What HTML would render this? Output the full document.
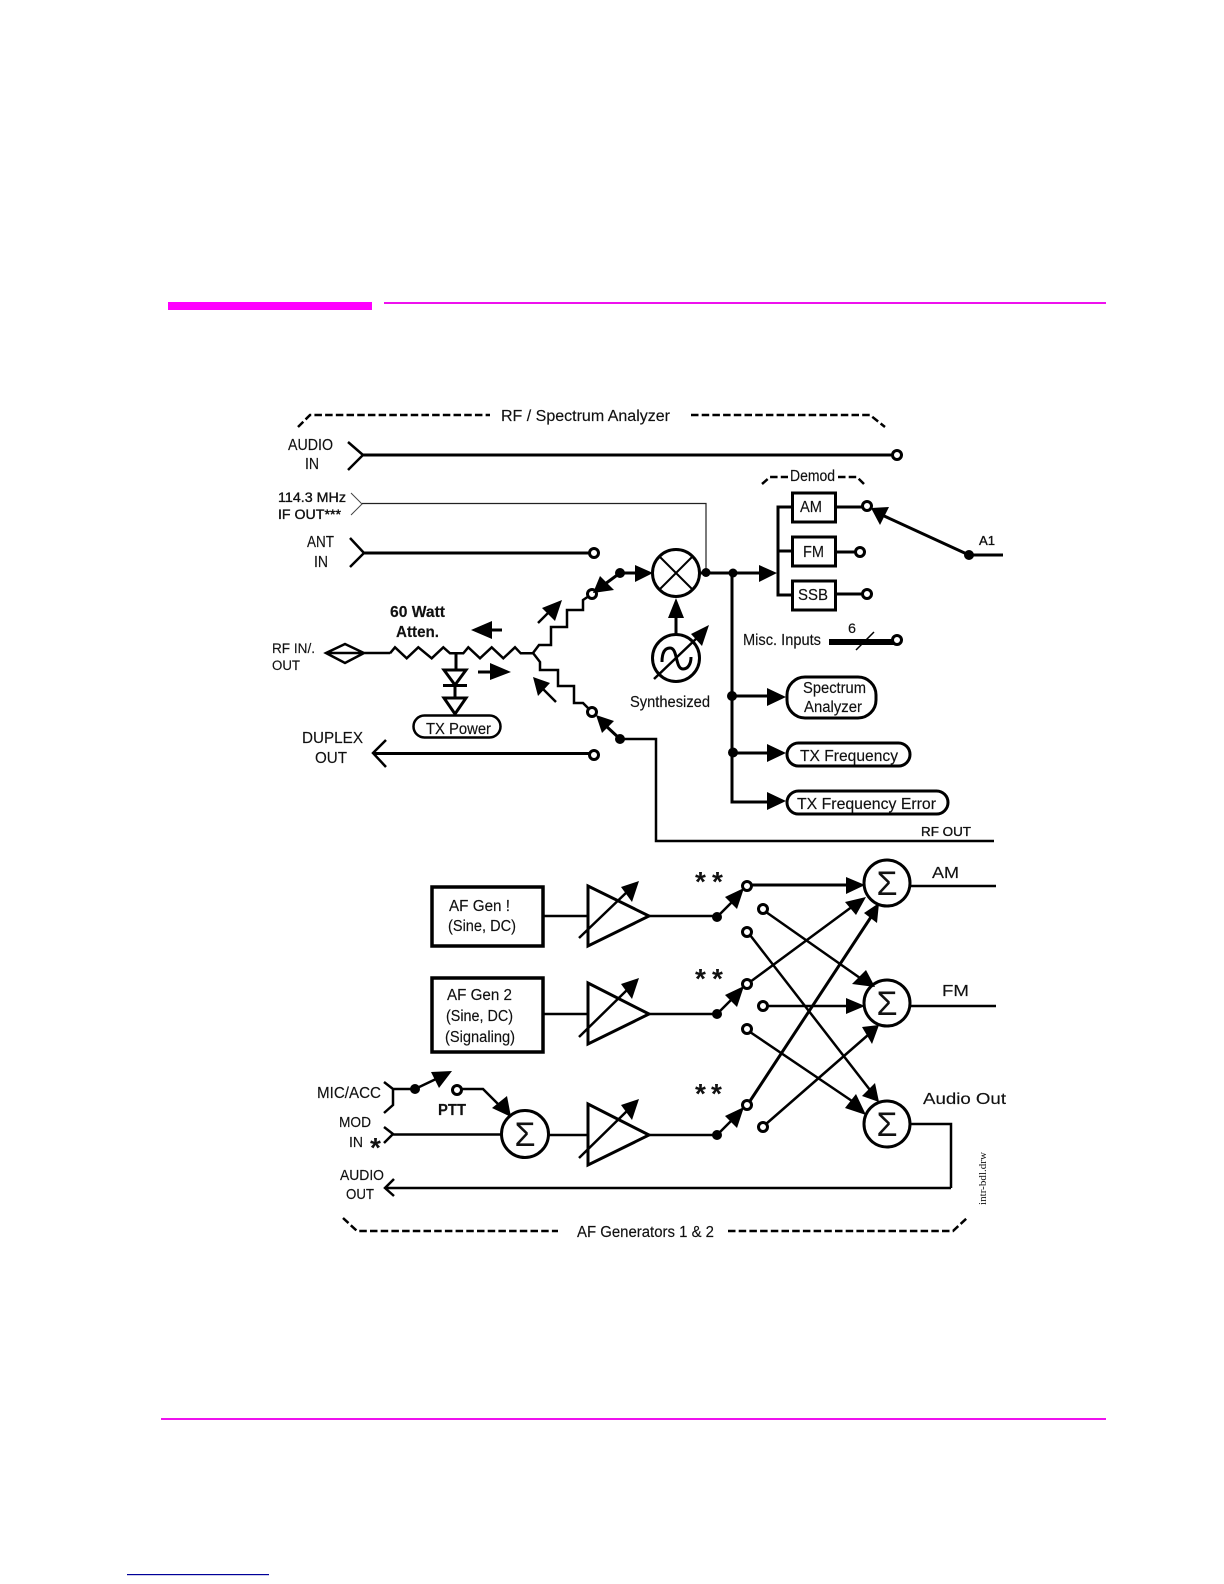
<!DOCTYPE html>
<html><head><meta charset="utf-8"><style>
html,body{margin:0;padding:0;background:#fff}
svg{display:block}
text{font-family:"Liberation Sans",Arial,sans-serif;fill:#111;stroke:#111;stroke-width:.15px;font-size:15.5px}
.l{fill:none;stroke:#000;stroke-width:3}
.m{fill:none;stroke:#000;stroke-width:2.5}
.c{fill:#fff;stroke:#000;stroke-width:3}
.d{fill:#000;stroke:none}
.a{fill:#000;stroke:none}
.dash{fill:none;stroke:#000;stroke-width:2.5;stroke-dasharray:7.5 3.2}
.b{font-weight:bold}
.f{stroke-width:.35px}
.sg{font-size:34px;text-anchor:middle;stroke:none}
.st{font-size:28px;font-weight:bold;stroke:none}
</style></head><body>
<svg width="1224" height="1584" viewBox="0 0 1224 1584" xmlns="http://www.w3.org/2000/svg">
<rect width="1224" height="1584" fill="#fff"/>
<!-- page rules -->
<rect x="168" y="302" width="204" height="8" fill="#ff00ff"/>
<rect x="384" y="302" width="722" height="2" fill="#ee11ee"/>
<rect x="161" y="1418" width="945" height="2" fill="#ee11ee"/>
<rect x="127" y="1574" width="142" height="1.2" fill="#000099"/>

<!-- Top group -->
<path class="dash" d="M298,427 L310,415 H490"/>
<text x="501" y="421" textLength="169" lengthAdjust="spacingAndGlyphs">RF / Spectrum Analyzer</text>
<path class="dash" d="M691,415 H870 L885,427"/>

<text x="288" y="450" textLength="45" lengthAdjust="spacingAndGlyphs">AUDIO</text>
<text x="305" y="469" textLength="14" lengthAdjust="spacingAndGlyphs">IN</text>
<path class="m" d="M348,442 L363,455 L348,470"/>
<path class="l" d="M363,455 H892"/>
<circle class="c" cx="897" cy="455" r="4.5"/>

<text class="f" x="278" y="502" style="font-size:13.5px" textLength="68" lengthAdjust="spacingAndGlyphs">114.3 MHz</text>
<text class="f" x="278" y="519" style="font-size:13.5px" textLength="63" lengthAdjust="spacingAndGlyphs">IF OUT***</text>
<path d="M351,493 L362,504 L351,515" fill="none" stroke="#444" stroke-width="1"/>
<path d="M362,503.5 H706 V572" fill="none" stroke="#222" stroke-width="1.2"/>

<text x="307" y="547" textLength="27" lengthAdjust="spacingAndGlyphs">ANT</text>
<text x="314" y="567" textLength="14" lengthAdjust="spacingAndGlyphs">IN</text>
<path class="m" d="M350,538 L364,553 L350,567"/>
<path class="l" d="M364,553 H590"/>
<circle class="c" cx="594" cy="553" r="4.5"/>

<!-- RF IN -->
<text x="272" y="653" style="font-size:13.5px" textLength="43" lengthAdjust="spacingAndGlyphs">RF IN/.</text>
<text x="272" y="670" style="font-size:13.5px" textLength="28" lengthAdjust="spacingAndGlyphs">OUT</text>
<path class="m" d="M326,653 L345,644 L364,653 L345,663 Z M326,653 H390"/>
<polyline class="m" points="390,653.3 395,647.3 406.7,658.3 418.3,647.3 431.7,658.3 443.3,647.3 450,653.3 463.3,653.3 468.3,647.3 480,658.3 491.7,647.3 503.3,658.3 515,647.3 520.7,653.3 533.3,653.3"/>
<polyline class="m" points="533,653 539,645 551,645 551,627 567,627 567,610 583,610 583,600 592,594"/>
<polyline class="m" points="533,653 540,662 540,670 558,670 558,686 574,686 574,703 583,703 592,712"/>
<text class="b" x="390" y="617" textLength="55" lengthAdjust="spacingAndGlyphs">60 Watt</text>
<text class="b" x="396" y="637" textLength="43" lengthAdjust="spacingAndGlyphs">Atten.</text>
<!-- coupling arrows -->
<polygon class="a" points="471,630 492,621 492,639"/><path class="l" d="M490,630 H502"/>
<polygon class="a" points="511,672 490,663 490,680"/><path class="l" d="M478,672 H492"/>
<polygon class="a" points="562,600 542,608 555,621"/><path class="m" d="M538,623 L552,609"/>
<polygon class="a" points="533,677 550,683 538,696"/><path class="m" d="M556,702 L541,687"/>
<!-- diodes -->
<path class="l" d="M456,653 V669"/>
<polygon points="444,670 466,670 455,685" fill="#fff" stroke="#000" stroke-width="3"/>
<path class="l" d="M443,685.5 H467 M455,685 V697"/>
<polygon points="444,698 466,698 455,714" fill="#fff" stroke="#000" stroke-width="3"/>
<rect class="c" x="413.5" y="715.5" width="87" height="22" rx="11" ry="11" style="stroke-width:2.5"/>
<text x="426" y="734" textLength="65" lengthAdjust="spacingAndGlyphs">TX Power</text>

<text x="302" y="743" style="font-size:16px" textLength="61" lengthAdjust="spacingAndGlyphs">DUPLEX</text>
<text x="315" y="763" style="font-size:16px" textLength="32" lengthAdjust="spacingAndGlyphs">OUT</text>
<path class="m" d="M386,740 L373,753 L386,767"/>
<path class="l" d="M373,753.5 H590"/>
<circle class="c" cx="594" cy="755" r="4.5"/>

<!-- switches -->
<circle class="c" cx="592" cy="594" r="4.5"/>
<path class="l" d="M620,573 L605,584"/>
<polygon class="a" points="593,593 614,590 600,576"/>
<circle class="d" cx="620" cy="573" r="5"/>
<path class="l" d="M620,573 H636"/>
<polygon class="a" points="635,565 653,573 635,582"/>
<circle class="c" cx="592" cy="712" r="4.5"/>
<polygon class="a" points="596,715 614,721 602,733"/>
<path class="l" d="M620,739 L605,725"/>
<circle class="d" cx="620" cy="739" r="5"/>
<path class="m" d="M620,739 H656 V841 H994"/>
<text class="f" x="921" y="836" style="font-size:13px" textLength="50" lengthAdjust="spacingAndGlyphs">RF OUT</text>

<!-- mixer -->
<circle class="c" cx="676" cy="573" r="23.5"/>
<path d="M660,557 L692,589 M692,557 L660,589" fill="none" stroke="#000" stroke-width="2"/>
<circle class="d" cx="706" cy="572.5" r="4.5"/>
<path class="l" d="M699,573 H762"/>
<circle class="d" cx="733" cy="573" r="4.5"/>
<polygon class="a" points="759,565 777,573 759,582"/>
<!-- synth -->
<path class="l" d="M676,635 V616"/>
<polygon class="a" points="668,618 676,598 684,618"/>
<circle class="c" cx="676" cy="658" r="23.5"/>
<path class="l" d="M662,662 C662,652 665,648 670,648 C678,648 675,669 683,669 C688,669 691,664 691,657"/>
<path class="m" d="M654,679 L698,637"/>
<polygon class="a" points="709,625 691,634 702,646"/>
<text x="630" y="707" textLength="80" lengthAdjust="spacingAndGlyphs">Synthesized</text>

<!-- demod -->
<path class="dash" d="M762,484 L770,477 H788 M838,477 H857 L865,485"/>
<text x="790" y="481" textLength="45" lengthAdjust="spacingAndGlyphs">Demod</text>
<path class="l" d="M792,507 H778 V595 H792 M778,551 H792"/>
<rect class="c" x="792.5" y="493" width="43" height="29"/>
<rect class="c" x="792.5" y="537" width="43" height="29"/>
<rect class="c" x="792.5" y="581" width="43" height="29"/>
<text x="800" y="512" textLength="22" lengthAdjust="spacingAndGlyphs">AM</text>
<text x="803" y="557" textLength="21" lengthAdjust="spacingAndGlyphs">FM</text>
<text x="798" y="600" textLength="30" lengthAdjust="spacingAndGlyphs">SSB</text>
<path class="l" d="M836,507 H863 M836,552 H856 M836,594 H863"/>
<circle class="c" cx="867" cy="506" r="4.5"/>
<circle class="c" cx="860" cy="552" r="4.5"/>
<circle class="c" cx="867" cy="594" r="4.5"/>
<path class="l" d="M969,555 L882,515"/>
<polygon class="a" points="871,508 889,507 880,525"/>
<circle class="d" cx="969" cy="555" r="5"/>
<path class="l" d="M969,555 H1003"/>
<text class="f" x="979" y="545" style="font-size:13px" textLength="16" lengthAdjust="spacingAndGlyphs">A1</text>

<!-- misc -->
<text x="743" y="645" textLength="78" lengthAdjust="spacingAndGlyphs">Misc. Inputs</text>
<text x="848" y="633" style="font-size:14px" textLength="8" lengthAdjust="spacingAndGlyphs">6</text>
<rect x="829" y="639" width="66" height="6" fill="#000"/>
<path d="M856,650 L874,632" stroke="#000" stroke-width="1.5"/>
<circle class="c" cx="897" cy="640" r="4.5"/>

<!-- TX bus -->
<path class="l" d="M732,573 V802 H768 M732,696 H768 M732,753 H768"/>
<circle class="d" cx="732" cy="696" r="5"/>
<circle class="d" cx="733" cy="752.5" r="5"/>
<polygon class="a" points="767,688 786,697 767,706"/>
<polygon class="a" points="767,744 786,753 767,762"/>
<polygon class="a" points="767,792 786,801 767,810"/>
<rect class="c" x="787" y="677" width="89" height="41" rx="18" ry="18"/>
<text x="803" y="693" textLength="63" lengthAdjust="spacingAndGlyphs">Spectrum</text>
<text x="804" y="712" textLength="58" lengthAdjust="spacingAndGlyphs">Analyzer</text>
<rect class="c" x="787" y="743" width="123" height="23" rx="11.5" ry="11.5"/>
<text x="800" y="761" style="font-size:16px" textLength="98" lengthAdjust="spacingAndGlyphs">TX Frequency</text>
<rect class="c" x="787" y="791" width="161" height="23" rx="11.5" ry="11.5"/>
<text x="797" y="809" style="font-size:16px" textLength="139" lengthAdjust="spacingAndGlyphs">TX Frequency Error</text>

<!-- AF gens -->
<rect class="c" x="432" y="887" width="111" height="59" style="stroke-width:3.5"/>
<text x="449" y="911" textLength="61" lengthAdjust="spacingAndGlyphs">AF Gen !</text>
<text x="448" y="931" textLength="68" lengthAdjust="spacingAndGlyphs">(Sine, DC)</text>
<rect class="c" x="432" y="978" width="111" height="74" style="stroke-width:3.5"/>
<text x="447" y="1000" textLength="65" lengthAdjust="spacingAndGlyphs">AF Gen 2</text>
<text x="446" y="1021" textLength="67" lengthAdjust="spacingAndGlyphs">(Sine, DC)</text>
<text x="445" y="1042" textLength="70" lengthAdjust="spacingAndGlyphs">(Signaling)</text>
<path class="m" d="M543,916 H588 M543,1014 H588 M548,1135 H588"/>

<!-- amps -->
<polygon points="588,886 649,916 588,946" fill="none" stroke="#000" stroke-width="3"/>
<path class="m" d="M579,938 L628,891"/>
<polygon class="a" points="639,881 621,887 632,902"/>
<polygon points="588,983 649,1014 588,1044" fill="none" stroke="#000" stroke-width="3"/>
<path class="m" d="M579,1037 L628,989"/>
<polygon class="a" points="639,978 621,984 632,999"/>
<polygon points="588,1104 649,1135 588,1165" fill="none" stroke="#000" stroke-width="3"/>
<path class="m" d="M579,1158 L628,1110"/>
<polygon class="a" points="639,1099 621,1105 632,1120"/>

<path class="m" d="M649,916 H717 M649,1014 H717 M649,1135 H717"/>
<circle class="d" cx="717" cy="917" r="5"/>
<circle class="d" cx="717" cy="1014" r="5"/>
<circle class="d" cx="717" cy="1135" r="5"/>
<path class="m" d="M717,917 L732,902 M717,1014 L732,999 M717,1135 L732,1120"/>
<polygon class="a" points="744,888 725,897 737,909"/>
<polygon class="a" points="744,986 725,995 737,1007"/>
<polygon class="a" points="744,1107 725,1116 737,1128"/>
<text class="st" x="695" y="891">*</text><text class="st" x="712" y="891">*</text>
<text class="st" x="695" y="988">*</text><text class="st" x="712" y="988">*</text>
<text class="st" x="695" y="1103">*</text><text class="st" x="711" y="1103">*</text>

<!-- matrix lines -->
<path class="l" d="M747,885 H850"/>
<polygon class="a" points="865,885 846,877 846,894"/>
<path class="m" d="M750,982 L853,906"/>
<polygon class="a" points="866,897 845,902 856,915"/>
<path class="l" d="M750,1101 L871,917"/>
<polygon class="a" points="879,903 864,913 877,923"/>
<path class="m" d="M766,912 L860,978"/>
<polygon class="a" points="875,987 852,984 866,970"/>
<path class="m" d="M767,1006 H850"/>
<polygon class="a" points="865,1006 846,998 846,1014"/>
<path class="m" d="M766,1124 L868,1035"/>
<polygon class="a" points="879,1025 862,1027 872,1044"/>
<path class="m" d="M750,935 L870,1090"/>
<polygon class="a" points="879,1102 862,1096 875,1083"/>
<path class="m" d="M750,1032 L852,1101"/>
<polygon class="a" points="866,1115 845,1108 856,1094"/>

<circle class="c" cx="747" cy="886" r="4.5"/>
<circle class="c" cx="763" cy="909" r="4.5"/>
<circle class="c" cx="747" cy="932" r="4.5"/>
<circle class="c" cx="747" cy="984" r="4.5"/>
<circle class="c" cx="763" cy="1006" r="4.5"/>
<circle class="c" cx="747" cy="1029" r="4.5"/>
<circle class="c" cx="747" cy="1105" r="4.5"/>
<circle class="c" cx="763" cy="1127" r="4.5"/>

<!-- sums -->
<circle cx="887" cy="883" r="23" fill="none" stroke="#000" stroke-width="3"/>
<text class="sg" x="887" y="895">Σ</text>
<circle cx="887" cy="1003" r="23" fill="none" stroke="#000" stroke-width="3"/>
<text class="sg" x="887" y="1015">Σ</text>
<circle cx="887" cy="1124" r="23" fill="none" stroke="#000" stroke-width="3"/>
<text class="sg" x="887" y="1136">Σ</text>
<path class="m" d="M911,886 H996 M911,1006 H996"/>
<path class="m" d="M911,1124 H951 V1188"/>
<text x="932" y="878" style="font-size:16px" textLength="27" lengthAdjust="spacingAndGlyphs">AM</text>
<text x="942" y="996" style="font-size:16px" textLength="27" lengthAdjust="spacingAndGlyphs">FM</text>
<text x="923" y="1104" style="font-size:16px" textLength="83" lengthAdjust="spacingAndGlyphs">Audio Out</text>
<text transform="translate(986,1205) rotate(-90)" style="font-family:'Liberation Serif',serif;font-size:10px;stroke:none" textLength="53" lengthAdjust="spacingAndGlyphs">intr-bdl.drw</text>

<!-- inputs -->
<text x="317" y="1098" textLength="64" lengthAdjust="spacingAndGlyphs">MIC/ACC</text>
<path class="m" d="M384,1082 L393,1089 V1105 L384,1113 M393,1089 H415"/>
<circle class="d" cx="415" cy="1089" r="5"/>
<path class="m" d="M415,1089 L436,1079"/>
<polygon class="a" points="452,1071 431,1072 439,1088"/>
<circle class="c" cx="457" cy="1090" r="4.5"/>
<path class="m" d="M462,1089 H483 L500,1106"/>
<polygon class="a" points="511,1117 492,1108 507,1096"/>
<text class="b" x="438" y="1115" textLength="28" lengthAdjust="spacingAndGlyphs">PTT</text>
<text x="339" y="1127" style="font-size:14.5px" textLength="32" lengthAdjust="spacingAndGlyphs">MOD</text>
<text x="349" y="1147" style="font-size:14.5px" textLength="14" lengthAdjust="spacingAndGlyphs">IN</text>
<text class="st" x="370" y="1157">*</text>
<path class="m" d="M384,1127 L393,1134 L384,1143 M393,1134.5 H502"/>
<circle cx="525" cy="1134" r="23.5" fill="none" stroke="#000" stroke-width="3"/>
<text class="sg" x="525" y="1146">Σ</text>

<text x="340" y="1180" style="font-size:15px" textLength="44" lengthAdjust="spacingAndGlyphs">AUDIO</text>
<text x="346" y="1199" style="font-size:15px" textLength="28" lengthAdjust="spacingAndGlyphs">OUT</text>
<path class="m" d="M394,1179 L385,1188 L394,1196 M385,1188 H951"/>

<!-- bottom group -->
<path class="dash" d="M343,1218 L357,1231 H558"/>
<text x="577" y="1237" textLength="137" lengthAdjust="spacingAndGlyphs">AF Generators 1 &amp; 2</text>
<path class="dash" d="M728,1231 H953 L967,1218"/>
</svg>
</body></html>
